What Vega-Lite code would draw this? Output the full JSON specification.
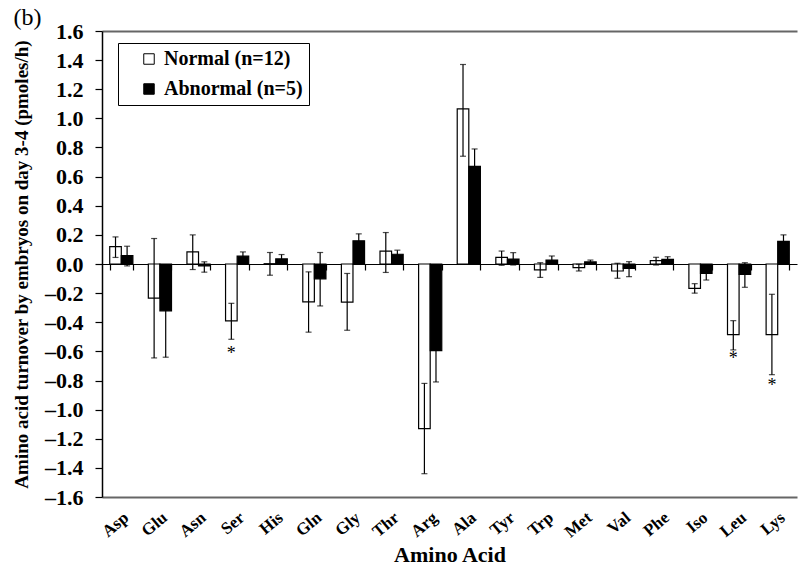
{
  "$schema": "https://vega.github.io/schema/vega-lite/v6.json",
  "width": 695,
  "height": 466,
  "autosize": "none",
  "padding": {"left": 102, "top": 31, "right": 1, "bottom": 76},
  "background": "white",
  "title": {"text": "(b)", "anchor": "start", "frame": "bounds", "fontSize": 24, "fontWeight": "normal", "font": "Liberation Serif", "color": "black", "offset": -10, "dx": 1},
  "config": {
    "font": "Liberation Serif",
    "view": {"stroke": null},
    "axis": {"grid": false, "labelColor": "black", "titleColor": "black", "labelFont": "Liberation Serif", "titleFont": "Liberation Serif"},
    "axisY": {"labelFontSize": 22, "labelFontWeight": "bold", "labelPadding": 12, "labelOverlap": false, "tickSize": 7, "tickColor": "black", "domainColor": "black", "domainWidth": 1.5, "tickWidth": 1.2, "titleFontSize": 19, "titleFontWeight": "bold", "titlePadding": 13}
  },
  "datasets": {
    "bars": [
      {"aa": "Asp", "group": "Normal (n=12)", "mean": 0.12, "lo": 0.045, "hi": 0.186},
      {"aa": "Asp", "group": "Abnormal (n=5)", "mean": 0.058, "lo": -0.013, "hi": 0.122},
      {"aa": "Glu", "group": "Normal (n=12)", "mean": -0.235, "lo": -0.645, "hi": 0.175},
      {"aa": "Glu", "group": "Abnormal (n=5)", "mean": -0.322, "lo": -0.64, "hi": -0.005},
      {"aa": "Asn", "group": "Normal (n=12)", "mean": 0.083, "lo": -0.038, "hi": 0.2},
      {"aa": "Asn", "group": "Abnormal (n=5)", "mean": -0.013, "lo": -0.056, "hi": 0.015},
      {"aa": "Ser", "group": "Normal (n=12)", "mean": -0.39, "lo": -0.517, "hi": -0.27},
      {"aa": "Ser", "group": "Abnormal (n=5)", "mean": 0.054, "lo": 0.025, "hi": 0.083},
      {"aa": "His", "group": "Normal (n=12)", "mean": 0.002, "lo": -0.077, "hi": 0.079},
      {"aa": "His", "group": "Abnormal (n=5)", "mean": 0.035, "lo": 0.005, "hi": 0.065},
      {"aa": "Gln", "group": "Normal (n=12)", "mean": -0.26, "lo": -0.468, "hi": -0.054},
      {"aa": "Gln", "group": "Abnormal (n=5)", "mean": -0.102, "lo": -0.288, "hi": 0.079},
      {"aa": "Gly", "group": "Normal (n=12)", "mean": -0.262, "lo": -0.455, "hi": -0.065},
      {"aa": "Gly", "group": "Abnormal (n=5)", "mean": 0.159, "lo": 0.111, "hi": 0.207},
      {"aa": "Thr", "group": "Normal (n=12)", "mean": 0.088, "lo": -0.058, "hi": 0.216},
      {"aa": "Thr", "group": "Abnormal (n=5)", "mean": 0.067, "lo": 0.039, "hi": 0.095},
      {"aa": "Arg", "group": "Normal (n=12)", "mean": -1.13, "lo": -1.44, "hi": -0.82},
      {"aa": "Arg", "group": "Abnormal (n=5)", "mean": -0.595, "lo": -0.81, "hi": -0.38},
      {"aa": "Ala", "group": "Normal (n=12)", "mean": 1.065, "lo": 0.74, "hi": 1.37},
      {"aa": "Ala", "group": "Abnormal (n=5)", "mean": 0.67, "lo": 0.55, "hi": 0.79},
      {"aa": "Tyr", "group": "Normal (n=12)", "mean": 0.046, "lo": -0.009, "hi": 0.089},
      {"aa": "Tyr", "group": "Abnormal (n=5)", "mean": 0.034, "lo": -0.007, "hi": 0.078},
      {"aa": "Trp", "group": "Normal (n=12)", "mean": -0.041, "lo": -0.092, "hi": 0.009},
      {"aa": "Trp", "group": "Abnormal (n=5)", "mean": 0.027, "lo": 0.0, "hi": 0.055},
      {"aa": "Met", "group": "Normal (n=12)", "mean": -0.025, "lo": -0.048, "hi": -0.002},
      {"aa": "Met", "group": "Abnormal (n=5)", "mean": 0.014, "lo": 0.0, "hi": 0.027},
      {"aa": "Val", "group": "Normal (n=12)", "mean": -0.048, "lo": -0.098, "hi": 0.005},
      {"aa": "Val", "group": "Abnormal (n=5)", "mean": -0.03, "lo": -0.087, "hi": 0.016},
      {"aa": "Phe", "group": "Normal (n=12)", "mean": 0.023, "lo": -0.007, "hi": 0.046},
      {"aa": "Phe", "group": "Abnormal (n=5)", "mean": 0.032, "lo": 0.014, "hi": 0.05},
      {"aa": "Iso", "group": "Normal (n=12)", "mean": -0.167, "lo": -0.2, "hi": -0.135},
      {"aa": "Iso", "group": "Abnormal (n=5)", "mean": -0.064, "lo": -0.11, "hi": -0.02},
      {"aa": "Leu", "group": "Normal (n=12)", "mean": -0.485, "lo": -0.59, "hi": -0.389},
      {"aa": "Leu", "group": "Abnormal (n=5)", "mean": -0.071, "lo": -0.16, "hi": 0.009},
      {"aa": "Lys", "group": "Normal (n=12)", "mean": -0.485, "lo": -0.76, "hi": -0.208},
      {"aa": "Lys", "group": "Abnormal (n=5)", "mean": 0.156, "lo": 0.11, "hi": 0.2}
    ],
    "stars": [
      {"aa": "Ser", "group": "Normal (n=12)", "pos": -0.6, "label": "*"},
      {"aa": "Leu", "group": "Normal (n=12)", "pos": -0.632, "label": "*"},
      {"aa": "Lys", "group": "Normal (n=12)", "pos": -0.82, "label": "*"}
    ]
  },
  "resolve": {"axis": {"x": "independent"}},
  "layer": [
    {
      "data": {"name": "bars"},
      "mark": {"type": "bar", "stroke": "black", "strokeWidth": 1.2},
      "encoding": {
        "x": {
          "field": "aa", "type": "nominal",
          "sort": ["Asp","Glu","Asn","Ser","His","Gln","Gly","Thr","Arg","Ala","Tyr","Trp","Met","Val","Phe","Iso","Leu","Lys"],
          "scale": {"paddingInner": 0.4, "paddingOuter": 0.2},
          "axis": {
            "orient": "bottom", "title": "Amino Acid", "titleFontSize": 22, "titleFontWeight": "bold", "titlePadding": 4,
            "labelAngle": -40, "labelFontSize": 17, "labelFontWeight": "bold", "labelPadding": 12,
            "ticks": false, "domainColor": "#666666", "domainWidth": 2
          }
        },
        "xOffset": {"field": "group", "type": "nominal", "sort": ["Normal (n=12)", "Abnormal (n=5)"], "scale": {"paddingInner": 0, "paddingOuter": 0}},
        "y": {
          "field": "mean", "type": "quantitative",
          "scale": {"domain": [-1.6, 1.6], "nice": false, "zero": false},
          "axis": {"title": "Amino acid turnover by embryos on day 3-4 (pmoles/h)", "values": [-1.6,-1.4,-1.2,-1.0,-0.8,-0.6,-0.4,-0.2,0,0.2,0.4,0.6,0.8,1.0,1.2,1.4,1.6], "labelExpr": "(datum.value < -0.001 ? '–' : '') + format(abs(datum.value), '.1f')", "labelFontSize": 22}
        },
        "fill": {
          "field": "group", "type": "nominal",
          "scale": {"domain": ["Normal (n=12)", "Abnormal (n=5)"], "range": ["white", "black"]},
          "legend": {
            "title": null, "orient": "none", "legendX": 16, "legendY": 12,
            "strokeColor": "black", "padding": 6, "symbolType": "square", "symbolSize": 110,
            "symbolStrokeColor": "black", "symbolStrokeWidth": 1, "symbolOffset": 15, "labelOffset": 5,
            "labelFontSize": 20, "labelFontWeight": "bold", "labelFont": "Liberation Serif", "labelColor": "black",
            "rowPadding": 10, "fillColor": "white"
          }
        }
      }
    },
    {
      "data": {"name": "bars"},
      "mark": {"type": "rule", "color": "black", "strokeWidth": 1.2},
      "encoding": {
        "x": {
          "field": "aa", "type": "nominal",
          "sort": ["Asp","Glu","Asn","Ser","His","Gln","Gly","Thr","Arg","Ala","Tyr","Trp","Met","Val","Phe","Iso","Leu","Lys"],
          "axis": {"orient": "bottom", "offset": -233, "title": null, "labels": false, "tickBand": "extent", "tickSize": 6, "tickColor": "black", "domainColor": "black", "domainWidth": 1.2, "tickWidth": 1.2}
        },
        "xOffset": {"field": "group", "type": "nominal", "sort": ["Normal (n=12)", "Abnormal (n=5)"]},
        "y": {"field": "lo", "type": "quantitative", "axis": {"title": "Amino acid turnover by embryos on day 3-4 (pmoles/h)", "values": [-1.6,-1.4,-1.2,-1.0,-0.8,-0.6,-0.4,-0.2,0,0.2,0.4,0.6,0.8,1.0,1.2,1.4,1.6], "labelExpr": "(datum.value < -0.001 ? '–' : '') + format(abs(datum.value), '.1f')", "labelFontSize": 22}},
        "y2": {"field": "hi"}
      }
    },
    {
      "data": {"name": "bars"},
      "mark": {"type": "tick", "color": "black", "thickness": 1.2, "size": 6},
      "encoding": {
        "x": {"field": "aa", "type": "nominal", "sort": ["Asp","Glu","Asn","Ser","His","Gln","Gly","Thr","Arg","Ala","Tyr","Trp","Met","Val","Phe","Iso","Leu","Lys"], "axis": null},
        "xOffset": {"field": "group", "type": "nominal", "sort": ["Normal (n=12)", "Abnormal (n=5)"]},
        "y": {"field": "lo", "type": "quantitative", "axis": {"title": "Amino acid turnover by embryos on day 3-4 (pmoles/h)", "values": [-1.6,-1.4,-1.2,-1.0,-0.8,-0.6,-0.4,-0.2,0,0.2,0.4,0.6,0.8,1.0,1.2,1.4,1.6], "labelExpr": "(datum.value < -0.001 ? '–' : '') + format(abs(datum.value), '.1f')", "labelFontSize": 22}}
      }
    },
    {
      "data": {"name": "bars"},
      "mark": {"type": "tick", "color": "black", "thickness": 1.2, "size": 6},
      "encoding": {
        "x": {"field": "aa", "type": "nominal", "sort": ["Asp","Glu","Asn","Ser","His","Gln","Gly","Thr","Arg","Ala","Tyr","Trp","Met","Val","Phe","Iso","Leu","Lys"], "axis": null},
        "xOffset": {"field": "group", "type": "nominal", "sort": ["Normal (n=12)", "Abnormal (n=5)"]},
        "y": {"field": "hi", "type": "quantitative", "axis": {"title": "Amino acid turnover by embryos on day 3-4 (pmoles/h)", "values": [-1.6,-1.4,-1.2,-1.0,-0.8,-0.6,-0.4,-0.2,0,0.2,0.4,0.6,0.8,1.0,1.2,1.4,1.6], "labelExpr": "(datum.value < -0.001 ? '–' : '') + format(abs(datum.value), '.1f')", "labelFontSize": 22}}
      }
    },
    {
      "data": {"name": "stars"},
      "mark": {"type": "text", "fontSize": 18, "font": "Liberation Serif", "fill": "black", "baseline": "middle", "dy": 3},
      "encoding": {
        "x": {
          "field": "aa", "type": "nominal",
          "sort": ["Asp","Glu","Asn","Ser","His","Gln","Gly","Thr","Arg","Ala","Tyr","Trp","Met","Val","Phe","Iso","Leu","Lys"],
          "axis": {"orient": "top", "title": null, "labels": false, "ticks": false, "domainColor": "#666666", "domainWidth": 2}
        },
        "xOffset": {"field": "group", "type": "nominal", "sort": ["Normal (n=12)", "Abnormal (n=5)"]},
        "y": {"field": "pos", "type": "quantitative", "axis": {"title": "Amino acid turnover by embryos on day 3-4 (pmoles/h)", "values": [-1.6,-1.4,-1.2,-1.0,-0.8,-0.6,-0.4,-0.2,0,0.2,0.4,0.6,0.8,1.0,1.2,1.4,1.6], "labelExpr": "(datum.value < -0.001 ? '–' : '') + format(abs(datum.value), '.1f')", "labelFontSize": 22}},
        "text": {"field": "label"}
      }
    }
  ]
}
